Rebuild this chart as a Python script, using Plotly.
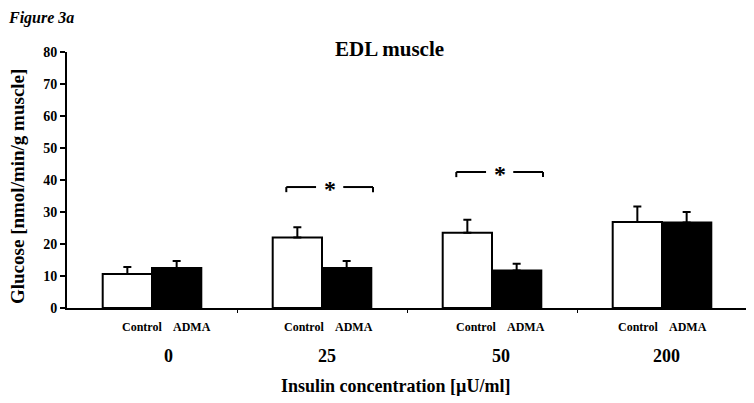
import plotly.graph_objects as go

categories = ["0", "25", "50", "200"]
groups = ["Control", "ADMA"]
control_vals = [10.6, 22.0, 23.5, 26.9]
control_err = [2.2, 3.2, 4.1, 4.8]
adma_vals = [12.5, 12.5, 11.7, 26.7]
adma_err = [2.2, 2.2, 2.1, 3.3]
sig_groups = [1, 2]          # category indices with significance
sig_levels = [37.8, 42.5]    # bracket heights
y_ticks = [0, 10, 20, 30, 40, 50, 60, 70, 80]

FONT = "Liberation Serif"
PAGE_OFF = 8                 # browser body margin
W, H = 754 - PAGE_OFF, 403 - PAGE_OFF
PL, PR, PT, PB = 67, 747, 52, 308   # plot area in page pixels
L, R, T, B = PL - PAGE_OFF, 754 - PR, PT - PAGE_OFF, 403 - PB
PW, PH = PR - PL, PB - PT

def px(x):
    return (x - PL) / PW

def py(y):
    return (PB - y) / PH

CAT_PX = PW / len(categories)
label_shift = [16, 5, 9, 4]      # px shift of category labels
sub_shift = [15, 7, 9, 1]        # px shift of group labels

xs = list(range(len(categories)))

fig = go.Figure()
fig.add_trace(go.Bar(
    x=xs, y=control_vals, name="Control",
    marker=dict(color="white", line=dict(color="black", width=2)),
    error_y=dict(type="data", array=control_err, arrayminus=[0]*4, symmetric=False,
                 color="black", thickness=2, width=4),
))
fig.add_trace(go.Bar(
    x=xs, y=adma_vals, name="ADMA",
    marker=dict(color="black", line=dict(color="black", width=2)),
    error_y=dict(type="data", array=adma_err, arrayminus=[0]*4, symmetric=False,
                 color="black", thickness=2, width=4),
))

shapes = []
annotations = []
for gi, lvl in zip(sig_groups, sig_levels):
    x0, x1 = gi - 0.21, gi + 0.3
    xm = (x0 + x1) / 2
    drop = 1.6
    for a, b in [(x0, xm - 0.08), (xm + 0.08, x1)]:
        shapes.append(dict(type="line", xref="x", yref="y", x0=a, x1=b, y0=lvl, y1=lvl,
                           line=dict(color="black", width=2)))
    for xe in (x0, x1):
        shapes.append(dict(type="line", xref="x", yref="y", x0=xe, x1=xe, y0=lvl, y1=lvl - drop,
                           line=dict(color="black", width=2)))
    annotations.append(dict(x=xm, y=lvl - 0.6, xref="x", yref="y", text="<b>*</b>",
                            showarrow=False, font=dict(family=FONT, size=24, color="black"),
                            yanchor="middle"))

for i, c in enumerate(categories):
    for j, g in enumerate(groups):
        off = -0.145 if j == 0 else 0.145
        annotations.append(dict(x=i + off + sub_shift[i] / CAT_PX, y=py(327), xref="x", yref="paper",
                                text=f"<b>{g}</b>", showarrow=False,
                                font=dict(family=FONT, size=12, color="black"),
                                yanchor="middle"))
    annotations.append(dict(x=i + label_shift[i] / CAT_PX, y=py(356), xref="x", yref="paper",
                            text=f"<b>{c}</b>", showarrow=False,
                            font=dict(family=FONT, size=18, color="black"),
                            yanchor="middle"))

annotations.append(dict(x=px(395), y=py(386), xref="paper", yref="paper",
                        text="<b>Insulin concentration [µU/ml]</b>", showarrow=False,
                        font=dict(family=FONT, size=18, color="black"), yanchor="middle"))
annotations.append(dict(x=px(17), y=py(187), xref="paper", yref="paper",
                        text="<b>Glucose [nmol/min/g muscle]</b>", textangle=-90, showarrow=False,
                        font=dict(family=FONT, size=19, color="black"),
                        xanchor="center", yanchor="middle"))
annotations.append(dict(x=px(389), y=py(49), xref="paper", yref="paper",
                        text="<b>EDL muscle</b>", showarrow=False,
                        font=dict(family=FONT, size=21, color="black"), yanchor="middle"))
annotations.append(dict(x=px(7), y=py(PAGE_OFF), xref="paper", yref="paper",
                        text="<b><i>Figure 3a</i></b>", showarrow=False, xanchor="left",
                        yanchor="top", borderpad=0,
                        font=dict(family=FONT, size=16, color="black")))

fig.update_layout(
    width=W, height=H,
    margin=dict(l=L, r=R, t=T, b=B, autoexpand=False),
    paper_bgcolor="white", plot_bgcolor="white",
    barmode="group", bargap=0.42, bargroupgap=0,
    showlegend=False,
    shapes=shapes, annotations=annotations,
    font=dict(family=FONT, color="black"),
)
fig.update_xaxes(range=[-0.5, len(categories) - 0.5], showline=True, linecolor="black", linewidth=2,
                 showgrid=False, zeroline=False, ticks="outside", ticklen=3, tickwidth=1,
                 tickcolor="black", tickvals=[0.5, 1.5, 2.5], showticklabels=False)
fig.update_yaxes(range=[0, 80], tickvals=y_ticks, showline=True, linecolor="black", linewidth=2,
                 showgrid=False, zeroline=False, ticks="outside", ticklen=5, tickwidth=2,
                 tickcolor="black",
                 tickfont=dict(family=FONT, size=14, color="black", weight="bold"))

fig.write_html("out.html")
